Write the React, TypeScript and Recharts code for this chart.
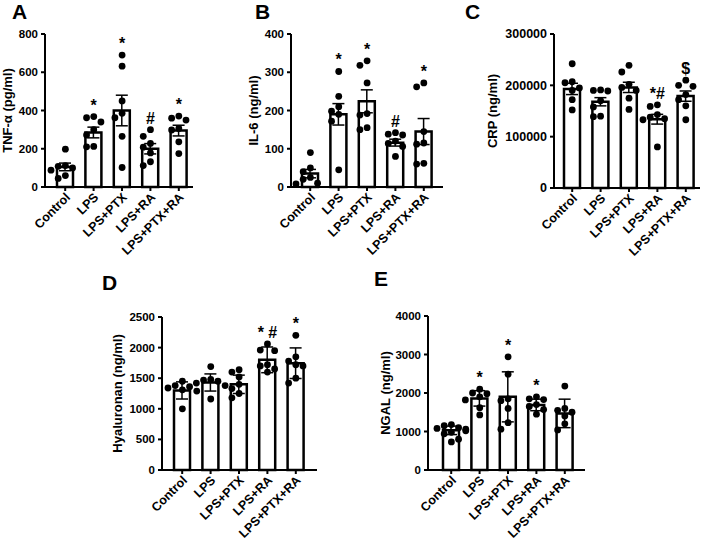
import React from 'react';
import { ComposedChart, Bar, ErrorBar, Scatter, XAxis, YAxis } from 'recharts';

const groups = ['Control', 'LPS', 'LPS+PTX', 'LPS+RA', 'LPS+PTX+RA'];

// TNF-α (pg/ml)
const tnfTicks = [0, 200, 400, 600, 800];
const tnfMean = [105, 285, 400, 200, 295];
const tnfErr = [20, 28, 80, 27, 28];
const tnfDots = [
  [198, 112, 108, 100, 88, 60, 45],
  [368, 362, 340, 300, 272, 212, 210],
  [690, 632, 450, 385, 362, 265, 102],
  [300, 265, 228, 208, 178, 132, 112],
  [371, 360, 350, 306, 298, 236, 175],
];
const tnfSig = ['', '*', '*', '#', '*'];

// IL-6 (ng/ml)
const il6Ticks = [0, 100, 200, 300, 400];
const il6Mean = [35, 190, 224, 116, 145];
const il6Err = [11, 28, 30, 9, 34];
const il6Dots = [
  [90, 50, 40, 25, 20, 10, 8],
  [302, 237, 210, 198, 190, 172, 45],
  [330, 318, 272, 192, 188, 155, 150],
  [142, 138, 136, 120, 114, 106, 80],
  [272, 262, 145, 115, 112, 62, 60],
];
const il6Sig = ['', '*', '*', '#', '*'];

// CRP (ng/ml)
const crpTicks = [0, 100000, 200000, 300000];
const crpMean = [193000, 168000, 196000, 134000, 179000];
const crpErr = [11000, 8000, 10000, 9500, 10000];
const crpDots = [
  [242000, 207000, 205000, 195000, 190000, 172000, 152000],
  [191000, 190000, 189000, 170000, 158000, 140000, 139000],
  [239000, 226000, 202000, 196000, 190000, 175000, 153000],
  [162000, 159000, 143000, 138000, 135000, 133000, 80000],
  [210000, 200000, 198000, 182000, 172000, 160000, 133000],
];
const crpSig = ['', '', '', '*#', '$'];

// Hyaluronan (ng/ml)
const hyaTicks = [0, 500, 1000, 1500, 2000, 2500];
const hyaMean = [1300, 1430, 1400, 1800, 1745];
const hyaErr = [140, 140, 150, 210, 250];
const hyaDots = [
  [1450, 1380, 1360, 1340, 1310, 1290, 1000],
  [1690, 1480, 1470, 1450, 1420, 1380, 1160],
  [1640, 1600, 1520, 1400, 1330, 1250, 1180],
  [2060, 1960, 1950, 1720, 1700, 1650, 1600],
  [2200, 1850, 1780, 1720, 1700, 1500, 1420],
];
const hyaSig = ['', '', '', '* #', '*'];

// NGAL (ng/ml)
const ngalTicks = [0, 1000, 2000, 3000, 4000];
const ngalMean = [1030, 1860, 1900, 1690, 1470];
const ngalErr = [110, 200, 650, 150, 370];
const ngalDots = [
  [1180, 1150, 1100, 1080, 1060, 1020, 980, 940, 800, 730],
  [2100, 2000, 1980, 1900, 1820, 1620, 1430],
  [2940, 2490, 1850, 1800, 1600, 1230, 1060],
  [1900, 1850, 1830, 1700, 1650, 1570, 1450],
  [2180, 1600, 1550, 1500, 1400, 1200, 1040],
];
const ngalSig = ['', '*', '*', '*', ''];

const FONT = '"Liberation Sans", Arial, Helvetica, sans-serif';
const DOT_R = 3.4;

// spread the dots of one group sideways so they don't overlap (simple beeswarm)
function swarm(vals: number[], max: number, plotH: number, band: number) {
  const k = plotH / max;
  const gap = DOT_R * 2 + 0.4;
  const step = gap / band;
  const out: { dx: number; v: number }[] = [];
  [...vals].sort((a, b) => b - a).forEach((v) => {
    const slots = [0, -1, 1, -2, 2];
    let pick = slots[slots.length - 1];
    for (const s of slots) {
      const clash = out.some((o) => {
        const ex = (o.dx - s * step) * band;
        const ey = (o.v - v) * k;
        return ex * ex + ey * ey < gap * gap;
      });
      if (!clash) {
        pick = s;
        break;
      }
    }
    out.push({ dx: pick * step, v });
  });
  return out;
}

const GroupTick = (props: any) => {
  const { x, y, payload } = props;
  return (
    <g transform={`translate(${x},${y}) rotate(-45)`}>
      <text x={-1} y={9} textAnchor="end" fontSize={12.5} fontWeight="bold" fill="#000">
        {payload.value}
      </text>
    </g>
  );
};

const DotShape = (props: any) => <circle cx={props.cx} cy={props.cy} r={DOT_R} fill="#000" />;

const MarkShape = (props: any) => (
  <text x={props.cx} y={props.cy - 6} textAnchor="middle" fontSize={16} fontWeight="bold" fill="#000">
    {props.payload.s}
  </text>
);

type PanelProps = {
  yLabel: string;
  max: number;
  ticks: number[];
  means: number[];
  errs: number[];
  dots: number[][];
  sig: string[];
  left: number;
  top: number;
  axisX: number;
  plotW: number;
  padL: number;
  padR: number;
  plotTop: number;
  plotH: number;
  height: number;
  tickFont?: number;
};

const Panel = (p: PanelProps) => {
  const band = (p.plotW - p.padL - p.padR) / groups.length;
  const rows = groups.map((g, i) => ({ g, mean: p.means[i], err: p.errs[i] }));
  const pts = p.dots.flatMap((vals, i) =>
    swarm(vals, p.max, p.plotH, band).map((d) => ({ x: i + d.dx, y: d.v }))
  );
  const marks = p.sig
    .map((s, i) => ({ x: i, y: Math.max(...p.dots[i], p.means[i] + p.errs[i]), s }))
    .filter((m) => m.s);
  const yW = p.axisX - p.left;
  const mTop = p.plotTop - p.top;
  const width = yW + p.plotW + 6;
  const axisStyle = { stroke: '#000', strokeWidth: 2 };

  return (
    <div style={{ position: 'absolute', left: p.left, top: p.top }}>
      <ComposedChart
        width={width}
        height={p.height}
        data={rows}
        margin={{ top: mTop, right: 6, bottom: 0, left: 0 }}
      >
        <XAxis
          xAxisId="c"
          dataKey="g"
          type="category"
          padding={{ left: p.padL, right: p.padR }}
          interval={0}
          tickSize={4}
          tickMargin={0}
          tick={<GroupTick />}
          axisLine={axisStyle}
          tickLine={axisStyle}
          height={p.height - mTop - p.plotH}
        />
        <XAxis
          xAxisId="n"
          dataKey="x"
          type="number"
          domain={[-0.5, 4.5]}
          padding={{ left: p.padL, right: p.padR }}
          hide
        />
        <YAxis
          type="number"
          domain={[0, p.max]}
          ticks={p.ticks}
          interval={0}
          width={yW}
          tickSize={4}
          tickMargin={3}
          axisLine={axisStyle}
          tickLine={axisStyle}
          tick={{ fontSize: p.tickFont ?? 11.5, fontWeight: 'bold', fill: '#000' }}
          label={{
            value: p.yLabel,
            angle: -90,
            position: 'insideLeft',
            offset: 7,
            style: { textAnchor: 'middle', fontSize: 13, fontWeight: 'bold', fill: '#000' },
          }}
        />
        <Bar
          xAxisId="c"
          dataKey="mean"
          barSize={16}
          fill="#fff"
          stroke="#000"
          strokeWidth={2.5}
          isAnimationActive={false}
        >
          <ErrorBar dataKey="err" width={6} stroke="#000" strokeWidth={1.5} direction="y" />
        </Bar>
        <Scatter xAxisId="n" data={pts} dataKey="y" shape={DotShape} isAnimationActive={false} />
        <Scatter xAxisId="n" data={marks} dataKey="y" shape={MarkShape} isAnimationActive={false} />
      </ComposedChart>
    </div>
  );
};

const letters = [
  { t: 'A', x: 12, y: 19 },
  { t: 'B', x: 255, y: 19 },
  { t: 'C', x: 465, y: 19 },
  { t: 'D', x: 102, y: 290 },
  { t: 'E', x: 374, y: 286 },
];

export default function App() {
  return (
    <div
      style={{
        position: 'absolute',
        left: 0,
        top: 0,
        width: 709,
        height: 540,
        background: '#fff',
        fontFamily: FONT,
        overflow: 'hidden',
      }}
    >
      <svg width={709} height={540} style={{ position: 'absolute', left: 0, top: 0 }}>
        {letters.map((l) => (
          <text key={l.t} x={l.x} y={l.y} fontSize={21} fontWeight="bold" fill="#000">
            {l.t}
          </text>
        ))}
      </svg>
      <Panel
        yLabel="TNF-α (pg/ml)"
        max={800}
        ticks={tnfTicks}
        means={tnfMean}
        errs={tnfErr}
        dots={tnfDots}
        sig={tnfSig}
        left={0}
        top={0}
        axisX={45}
        plotW={148}
        padL={6}
        padR={0}
        plotTop={34}
        plotH={153}
        height={270}
      />
      <Panel
        yLabel="IL-6 (ng/ml)"
        max={400}
        ticks={il6Ticks}
        means={il6Mean}
        errs={il6Err}
        dots={il6Dots}
        sig={il6Sig}
        left={246}
        top={0}
        axisX={291}
        plotW={152}
        padL={5}
        padR={5}
        plotTop={34}
        plotH={153}
        height={270}
      />
      <Panel
        yLabel="CRP (ng/ml)"
        max={300000}
        ticks={crpTicks}
        means={crpMean}
        errs={crpErr}
        dots={crpDots}
        sig={crpSig}
        left={485}
        top={0}
        axisX={554}
        plotW={146}
        padL={4}
        padR={0}
        plotTop={34}
        plotH={154}
        height={270}
        tickFont={12.5}
      />
      <Panel
        yLabel="Hyaluronan (ng/ml)"
        max={2500}
        ticks={hyaTicks}
        means={hyaMean}
        errs={hyaErr}
        dots={hyaDots}
        sig={hyaSig}
        left={110}
        top={262}
        axisX={162}
        plotW={155}
        padL={6}
        padR={7}
        plotTop={317}
        plotH={153}
        height={278}
      />
      <Panel
        yLabel="NGAL (ng/ml)"
        max={4000}
        ticks={ngalTicks}
        means={ngalMean}
        errs={ngalErr}
        dots={ngalDots}
        sig={ngalSig}
        left={378}
        top={262}
        axisX={428}
        plotW={157}
        padL={9}
        padR={6}
        plotTop={316}
        plotH={154}
        height={278}
      />
    </div>
  );
}
